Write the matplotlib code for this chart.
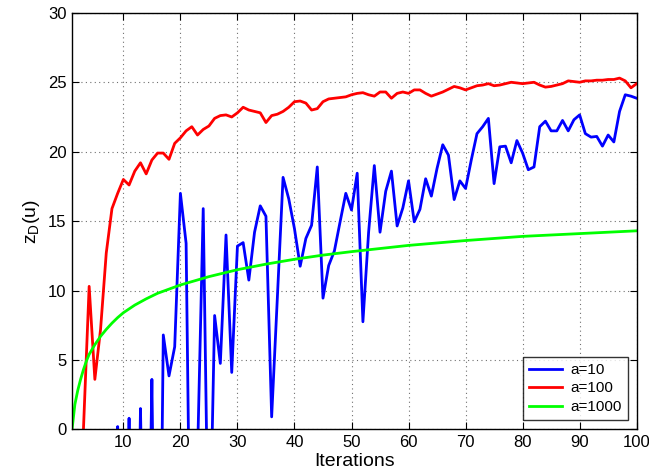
import numpy as np
import matplotlib
matplotlib.use("Agg")
import matplotlib.pyplot as plt

plt.rcParams['font.family'] = ['Liberation Sans', 'DejaVu Sans']

# Iteration index
iterations = list(range(1, 101))

# a=10 (values below zero fall outside the plotted range)
z_a10 = [-25, -30, -20, -28, -22, -18, -15, -12, 0.2, -20,
         0.8, -25, 1.5, -22, 3.6, -30, 6.8, 3.85, 5.95, 17.0,
         13.4, -20, -2, 15.9, -12, 8.2, 4.75, 14.0, 4.1, 13.2,
         13.45, 10.75, 14.2, 16.1, 15.35, 0.9, 9.5, 18.15, 16.6, 14.45,
         11.75, 13.75, 14.7, 18.9, 9.45, 11.8, 12.85, 14.95, 17.0, 15.8,
         18.45, 7.75, 14.2, 19.0, 14.2, 17.15, 18.6, 14.65, 15.95, 17.9,
         14.95, 15.85, 18.05, 16.8, 18.8, 20.5, 19.75, 16.55, 17.9, 17.35,
         19.4, 21.3, 21.8, 22.4, 17.7, 20.35, 20.4, 19.2, 20.8, 19.9,
         18.7, 18.9, 21.8, 22.2, 21.5, 21.5, 22.25, 21.5, 22.3, 22.65,
         21.3, 21.05, 21.1, 20.4, 21.2, 20.7, 22.9, 24.1, 24.0, 23.85]

# a=100, starting at iteration 3
iter_a100 = list(range(3, 101))
z_a100 = [0.0, 10.3, 3.6, 7.2, 12.7, 15.9, 17.0, 18.0, 17.6, 18.6,
          19.2, 18.4, 19.4, 19.9, 19.9, 19.45, 20.6, 21.0, 21.5, 21.8,
          21.2, 21.6, 21.85, 22.4, 22.6, 22.65, 22.5, 22.8, 23.2, 23.0,
          22.9, 22.8, 22.1, 22.6, 22.7, 22.9, 23.2, 23.6, 23.65, 23.5,
          23.0, 23.1, 23.6, 23.8, 23.85, 23.9, 23.95, 24.1, 24.2, 24.25,
          24.1, 24.0, 24.3, 24.3, 23.85, 24.2, 24.3, 24.2, 24.45, 24.45,
          24.2, 24.0, 24.15, 24.3, 24.5, 24.7, 24.6, 24.45, 24.6, 24.75,
          24.8, 24.9, 24.75, 24.8, 24.9, 25.0, 24.95, 24.9, 24.95, 25.0,
          24.8, 24.65, 24.7, 24.8, 24.9, 25.1, 25.05, 25.0, 25.1, 25.1,
          25.15, 25.15, 25.2, 25.2, 25.3, 25.1, 24.6, 24.9]

# a=1000, smooth curve
iter_a1000 = [1, 1.5, 2, 2.5, 3, 3.5, 4, 5, 6, 7, 8, 9, 10, 12, 14, 16, 18, 20,
              25, 30, 35, 40, 45, 50, 60, 70, 80, 90, 100]
z_a1000 = [0.0, 1.8, 2.8, 3.6, 4.3, 4.9, 5.4, 6.1, 6.7, 7.2, 7.65, 8.05, 8.4,
           8.95, 9.4, 9.8, 10.1, 10.4, 11.0, 11.5, 11.9, 12.25, 12.55, 12.8,
           13.25, 13.6, 13.9, 14.1, 14.3]

series_labels = ['a=10', 'a=100', 'a=1000']
x_ticks = [10, 20, 30, 40, 50, 60, 70, 80, 90, 100]
y_ticks = [0, 5, 10, 15, 20, 25, 30]

fig = plt.figure(figsize=(6.49, 4.76), dpi=100)
ax = fig.add_axes([0.111, 0.098, 0.870, 0.875])

ax.plot(iterations, z_a10, color=(0, 0, 1), lw=2.0, label=series_labels[0])
ax.plot(iter_a100, z_a100, color=(1, 0, 0), lw=2.0, label=series_labels[1])
ax.plot(iter_a1000, z_a1000, color=(0, 1, 0), lw=2.0, label=series_labels[2])

ax.set_xlim(1, 100)
ax.set_ylim(0, 30)
ax.set_xticks(x_ticks)
ax.set_yticks(y_ticks)
ax.tick_params(direction='in', top=True, right=True, length=5, width=0.8,
               labelsize=12, pad=4)
ax.grid(True, linestyle=(0, (1, 3)), color='#707070', linewidth=0.8)
for s in ax.spines.values():
    s.set_linewidth(1.0)

ax.set_xlabel('Iterations', fontsize=14, labelpad=2)
ax.set_ylabel(r'$\mathregular{z_D(u)}$', fontsize=14, labelpad=4)

leg = ax.legend(loc='lower right', fontsize=11, frameon=True, fancybox=False,
                borderaxespad=0.6, handlelength=2.2, borderpad=0.4,
                labelspacing=0.3, handletextpad=0.5)
leg.get_frame().set_edgecolor('black')
leg.get_frame().set_linewidth(1.0)

fig.savefig('out.png', dpi=100)
